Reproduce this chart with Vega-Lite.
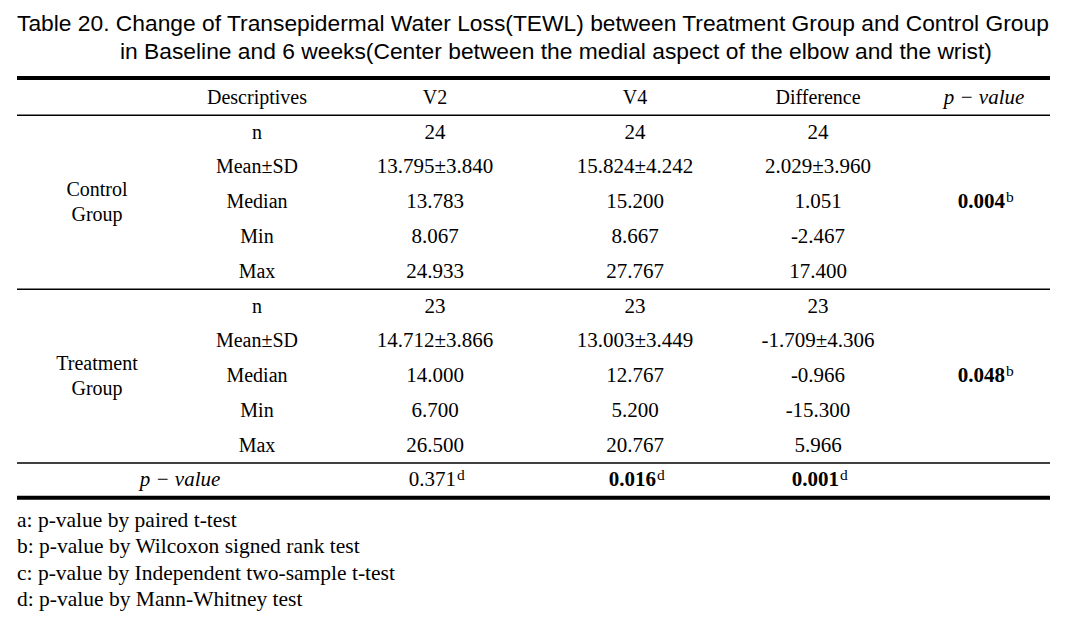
{
  "$schema": "https://vega.github.io/schema/vega-lite/v6.json",
  "width": 1065,
  "height": 617,
  "autosize": {"type": "fit", "contains": "padding"},
  "padding": {"left": 15, "right": 13, "top": 0, "bottom": 0},
  "background": "white",
  "config": {"view": {"stroke": null}},
  "datasets": {
    "rules": [
      {"row": -0.575, "rule": "outer"},
      {"row": 0.5, "rule": "inner"},
      {"row": 5.5, "rule": "inner"},
      {"row": 10.5, "rule": "inner"},
      {"row": 11.5, "rule": "outer"}
    ],
    "title": [
      {"row": -1.93, "col": 0, "text": "Table 20. Change of Transepidermal Water Loss(TEWL) between Treatment Group and Control Group"},
      {"row": -1.12, "col": 2, "text": "in Baseline and 6 weeks(Center between the medial aspect of the elbow and the wrist)"}
    ],
    "cells": [
      {"row": 0, "col": 4, "text": "Descriptives"},
      {"row": 0, "col": 5, "text": "V2"},
      {"row": 0, "col": 6, "text": "V4"},
      {"row": 0, "col": 7, "text": "Difference"},
      {"row": 1, "col": 4, "text": "n"},
      {"row": 1, "col": 5, "text": "24"},
      {"row": 1, "col": 6, "text": "24"},
      {"row": 1, "col": 7, "text": "24"},
      {"row": 2, "col": 4, "text": "Mean±SD"},
      {"row": 2, "col": 5, "text": "13.795±3.840"},
      {"row": 2, "col": 6, "text": "15.824±4.242"},
      {"row": 2, "col": 7, "text": "2.029±3.960"},
      {"row": 3, "col": 4, "text": "Median"},
      {"row": 3, "col": 5, "text": "13.783"},
      {"row": 3, "col": 6, "text": "15.200"},
      {"row": 3, "col": 7, "text": "1.051"},
      {"row": 4, "col": 4, "text": "Min"},
      {"row": 4, "col": 5, "text": "8.067"},
      {"row": 4, "col": 6, "text": "8.667"},
      {"row": 4, "col": 7, "text": "-2.467"},
      {"row": 5, "col": 4, "text": "Max"},
      {"row": 5, "col": 5, "text": "24.933"},
      {"row": 5, "col": 6, "text": "27.767"},
      {"row": 5, "col": 7, "text": "17.400"},
      {"row": 6, "col": 4, "text": "n"},
      {"row": 6, "col": 5, "text": "23"},
      {"row": 6, "col": 6, "text": "23"},
      {"row": 6, "col": 7, "text": "23"},
      {"row": 7, "col": 4, "text": "Mean±SD"},
      {"row": 7, "col": 5, "text": "14.712±3.866"},
      {"row": 7, "col": 6, "text": "13.003±3.449"},
      {"row": 7, "col": 7, "text": "-1.709±4.306"},
      {"row": 8, "col": 4, "text": "Median"},
      {"row": 8, "col": 5, "text": "14.000"},
      {"row": 8, "col": 6, "text": "12.767"},
      {"row": 8, "col": 7, "text": "-0.966"},
      {"row": 9, "col": 4, "text": "Min"},
      {"row": 9, "col": 5, "text": "6.700"},
      {"row": 9, "col": 6, "text": "5.200"},
      {"row": 9, "col": 7, "text": "-15.300"},
      {"row": 10, "col": 4, "text": "Max"},
      {"row": 10, "col": 5, "text": "26.500"},
      {"row": 10, "col": 6, "text": "20.767"},
      {"row": 10, "col": 7, "text": "5.966"}
    ],
    "groups": [
      {"row": 3, "col": 1, "text": "Control\nGroup"},
      {"row": 8, "col": 1, "text": "Treatment\nGroup"}
    ],
    "plabels": [
      {"row": 0, "col": 8, "text": "p − value"},
      {"row": 11, "col": 3, "text": "p − value"}
    ],
    "pvalues": [
      {"row": 11, "col": 5, "p": 0.371, "sup": "d"},
      {"row": 11, "col": 6, "p": 0.016, "sup": "d"},
      {"row": 11, "col": 7, "p": 0.001, "sup": "d"},
      {"row": 3, "col": 8, "p": 0.004, "sup": "b"},
      {"row": 8, "col": 8, "p": 0.048, "sup": "b"}
    ],
    "notes": [
      {"row": 12.35, "col": 0, "text": "a: p-value by paired t-test\nb: p-value by Wilcoxon signed rank test\nc: p-value by Independent two-sample t-test\nd: p-value by Mann-Whitney test"}
    ]
  },
  "layer": [
    {
      "data": {"name": "rules"},
      "transform": [{"filter": "datum.rule == 'outer'"}],
      "mark": {"type": "rule", "strokeWidth": 4, "color": "black"},
      "encoding": {
        "y": {"field": "row", "type": "quantitative", "axis": null, "scale": {"domain": [-2.82, 14.935], "reverse": true, "nice": false, "zero": false}}
      }
    },
    {
      "data": {"name": "rules"},
      "transform": [{"filter": "datum.rule == 'inner'"}],
      "mark": {"type": "rule", "strokeWidth": 1.5, "color": "black"},
      "encoding": {
        "y": {"field": "row", "type": "quantitative", "axis": null, "scale": {"domain": [-2.82, 14.935], "reverse": true, "nice": false, "zero": false}}
      }
    },
    {
      "data": {"name": "title"},
      "mark": {"type": "text", "align": "left", "baseline": "alphabetic", "font": "Liberation Sans", "fontSize": 22.8, "color": "black"},
      "encoding": {
        "x": {"field": "col", "type": "quantitative", "axis": null, "scale": {"domain": [0, 1, 2, 3, 4, 5, 6, 7, 8], "range": [0, 80, 103, 163, 240, 418, 618, 801, 967], "nice": false, "zero": false}},
        "y": {"field": "row", "type": "quantitative", "axis": null, "scale": {"domain": [-2.82, 14.935], "reverse": true, "nice": false, "zero": false}},
        "text": {"field": "text"}
      }
    },
    {
      "data": {"name": "cells"},
      "transform": [{"filter": "datum.row == 0 || datum.col == 4"}],
      "mark": {"type": "text", "align": "center", "baseline": "middle", "font": "Liberation Serif", "fontSize": 20, "color": "black"},
      "encoding": {
        "x": {"field": "col", "type": "quantitative", "axis": null, "scale": {"domain": [0, 1, 2, 3, 4, 5, 6, 7, 8], "range": [0, 80, 103, 163, 240, 418, 618, 801, 967], "nice": false, "zero": false}},
        "y": {"field": "row", "type": "quantitative", "axis": null, "scale": {"domain": [-2.82, 14.935], "reverse": true, "nice": false, "zero": false}},
        "text": {"field": "text"}
      }
    },
    {
      "data": {"name": "cells"},
      "transform": [{"filter": "datum.row != 0 && datum.col != 4"}],
      "mark": {"type": "text", "align": "center", "baseline": "middle", "font": "Liberation Serif", "fontSize": 21, "color": "black"},
      "encoding": {
        "x": {"field": "col", "type": "quantitative", "axis": null, "scale": {"domain": [0, 1, 2, 3, 4, 5, 6, 7, 8], "range": [0, 80, 103, 163, 240, 418, 618, 801, 967], "nice": false, "zero": false}},
        "y": {"field": "row", "type": "quantitative", "axis": null, "scale": {"domain": [-2.82, 14.935], "reverse": true, "nice": false, "zero": false}},
        "text": {"field": "text"}
      }
    },
    {
      "data": {"name": "groups"},
      "mark": {"type": "text", "align": "center", "baseline": "middle", "dy": -12.5, "font": "Liberation Serif", "fontSize": 20, "lineBreak": "\n", "lineHeight": 25, "color": "black"},
      "encoding": {
        "x": {"field": "col", "type": "quantitative", "axis": null, "scale": {"domain": [0, 1, 2, 3, 4, 5, 6, 7, 8], "range": [0, 80, 103, 163, 240, 418, 618, 801, 967], "nice": false, "zero": false}},
        "y": {"field": "row", "type": "quantitative", "axis": null, "scale": {"domain": [-2.82, 14.935], "reverse": true, "nice": false, "zero": false}},
        "text": {"field": "text"}
      }
    },
    {
      "data": {"name": "plabels"},
      "mark": {"type": "text", "align": "center", "baseline": "middle", "font": "Liberation Serif", "fontStyle": "italic", "fontSize": 21, "color": "black"},
      "encoding": {
        "x": {"field": "col", "type": "quantitative", "axis": null, "scale": {"domain": [0, 1, 2, 3, 4, 5, 6, 7, 8], "range": [0, 80, 103, 163, 240, 418, 618, 801, 967], "nice": false, "zero": false}},
        "y": {"field": "row", "type": "quantitative", "axis": null, "scale": {"domain": [-2.82, 14.935], "reverse": true, "nice": false, "zero": false}},
        "text": {"field": "text"}
      }
    },
    {
      "data": {"name": "pvalues"},
      "transform": [{"filter": "datum.p >= 0.05"}],
      "mark": {"type": "text", "align": "right", "baseline": "middle", "dx": 21, "font": "Liberation Serif", "fontSize": 21, "color": "black"},
      "encoding": {
        "x": {"field": "col", "type": "quantitative", "axis": null, "scale": {"domain": [0, 1, 2, 3, 4, 5, 6, 7, 8], "range": [0, 80, 103, 163, 240, 418, 618, 801, 967], "nice": false, "zero": false}},
        "y": {"field": "row", "type": "quantitative", "axis": null, "scale": {"domain": [-2.82, 14.935], "reverse": true, "nice": false, "zero": false}},
        "text": {"field": "p", "type": "quantitative", "format": ".3f"}
      }
    },
    {
      "data": {"name": "pvalues"},
      "transform": [{"filter": "datum.p < 0.05"}],
      "mark": {"type": "text", "align": "right", "baseline": "middle", "dx": 21, "font": "Liberation Serif", "fontWeight": "bold", "fontSize": 21, "color": "black"},
      "encoding": {
        "x": {"field": "col", "type": "quantitative", "axis": null, "scale": {"domain": [0, 1, 2, 3, 4, 5, 6, 7, 8], "range": [0, 80, 103, 163, 240, 418, 618, 801, 967], "nice": false, "zero": false}},
        "y": {"field": "row", "type": "quantitative", "axis": null, "scale": {"domain": [-2.82, 14.935], "reverse": true, "nice": false, "zero": false}},
        "text": {"field": "p", "type": "quantitative", "format": ".3f"}
      }
    },
    {
      "data": {"name": "pvalues"},
      "mark": {"type": "text", "align": "left", "baseline": "alphabetic", "dx": 22, "dy": 0, "font": "Liberation Serif", "fontSize": 15.5, "color": "black"},
      "encoding": {
        "x": {"field": "col", "type": "quantitative", "axis": null, "scale": {"domain": [0, 1, 2, 3, 4, 5, 6, 7, 8], "range": [0, 80, 103, 163, 240, 418, 618, 801, 967], "nice": false, "zero": false}},
        "y": {"field": "row", "type": "quantitative", "axis": null, "scale": {"domain": [-2.82, 14.935], "reverse": true, "nice": false, "zero": false}},
        "text": {"field": "sup"}
      }
    },
    {
      "data": {"name": "notes"},
      "mark": {"type": "text", "align": "left", "baseline": "alphabetic", "font": "Liberation Serif", "fontSize": 21.5, "lineBreak": "\n", "lineHeight": 26.3, "color": "black"},
      "encoding": {
        "x": {"field": "col", "type": "quantitative", "axis": null, "scale": {"domain": [0, 1, 2, 3, 4, 5, 6, 7, 8], "range": [0, 80, 103, 163, 240, 418, 618, 801, 967], "nice": false, "zero": false}},
        "y": {"field": "row", "type": "quantitative", "axis": null, "scale": {"domain": [-2.82, 14.935], "reverse": true, "nice": false, "zero": false}},
        "text": {"field": "text"}
      }
    }
  ]
}
